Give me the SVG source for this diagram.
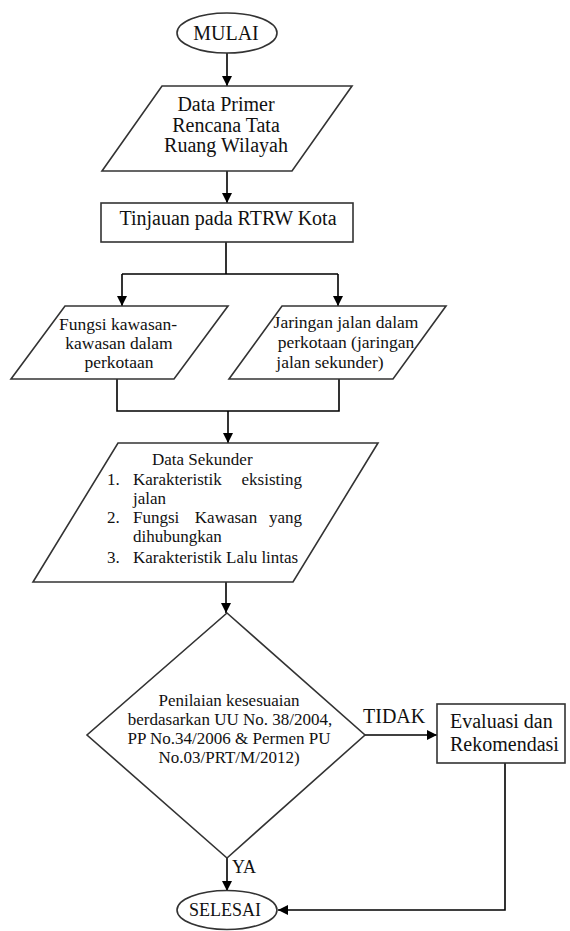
<svg xmlns="http://www.w3.org/2000/svg" width="570" height="931" viewBox="0 0 570 931">
<style>
.shape{fill:#fff;stroke:#333;stroke-width:1.6}
.conn{fill:none;stroke:#000;stroke-width:1.6}
text{font-family:"Liberation Serif","Times New Roman",serif;fill:#111}
.t20{font-size:20px}
.t18{font-size:18px}
.t17{font-size:17.5px}
.t17b{font-size:17px}
.c{text-anchor:middle}
.e{text-anchor:end}
</style>
<defs>
<marker id="arr" markerUnits="userSpaceOnUse" markerWidth="10" markerHeight="10" refX="10" refY="5" orient="auto">
<path d="M0,0 L10,5 L0,10 z" fill="#000"/>
</marker>
</defs>
<rect width="570" height="931" fill="#fff"/>
<g id="connectors">
<path class="conn" d="M227,53 V86" marker-end="url(#arr)"/>
<path class="conn" d="M227,171 V203" marker-end="url(#arr)"/>
<path class="conn" d="M226,242 V274 M122,274 H338"/>
<path class="conn" d="M122,274 V306" marker-end="url(#arr)"/>
<path class="conn" d="M338,274 V306" marker-end="url(#arr)"/>
<path class="conn" d="M117,379 V411 H339 V379"/>
<path class="conn" d="M228,411 V443" marker-end="url(#arr)"/>
<path class="conn" d="M226,582 V613" marker-end="url(#arr)"/>
<path class="conn" d="M365,735 H437" marker-end="url(#arr)"/>
<path class="conn" d="M227,858 V891" marker-end="url(#arr)"/>
<path class="conn" d="M505,763 V910 H278" marker-end="url(#arr)"/>
<text class="t20" x="363" y="723">TIDAK</text>
<text class="t18" x="232" y="873">YA</text>
</g>
<g id="mulai">
<ellipse class="shape" cx="227" cy="33" rx="50" ry="20"/>
<text class="t20 c" x="226" y="40">MULAI</text>
</g>
<g id="data-primer">
<polygon class="shape" points="162,86 352,86 292,171 102,171"/>
<text class="t20 c" x="226" y="111">Data Primer</text>
<text class="t20 c" x="226" y="132">Rencana Tata</text>
<text class="t20 c" x="226" y="152">Ruang Wilayah</text>
</g>
<g id="tinjauan">
<rect class="shape" x="101" y="203" width="252" height="39"/>
<text class="t20 c" x="228" y="225">Tinjauan pada RTRW Kota</text>
</g>
<g id="fungsi-kawasan">
<polygon class="shape" points="65,306 228,306 174,379 11,379"/>
<text class="t17 c" x="118" y="330">Fungsi kawasan-</text>
<text class="t17 c" x="119" y="349">kawasan dalam</text>
<text class="t17 c" x="119" y="368">perkotaan</text>
</g>
<g id="jaringan-jalan">
<polygon class="shape" points="282,306 446,306 393,379 229,379"/>
<text class="t17 c" x="346" y="328">Jaringan jalan dalam</text>
<text class="t17 c" x="346" y="348">perkotaan (jaringan</text>
<text class="t17 c" x="330" y="368">jalan sekunder)</text>
</g>
<g id="data-sekunder">
<polygon class="shape" points="118,443 378,443 293,582 33,582"/>
<text class="t17b" x="152" y="465">Data Sekunder</text>
<text class="t17b" x="107" y="485">1.</text>
<text class="t17b" x="133" y="485">Karakteristik</text>
<text class="t17b e" x="302" y="485">eksisting</text>
<text class="t17b" x="133" y="504">jalan</text>
<text class="t17b" x="107" y="523">2.</text>
<text class="t17b" x="133" y="523">Fungsi</text>
<text class="t17b c" x="226" y="523">Kawasan</text>
<text class="t17b e" x="302" y="523">yang</text>
<text class="t17b" x="133" y="542">dihubungkan</text>
<text class="t17b" x="107" y="563">3.</text>
<text class="t17b" x="133" y="563">Karakteristik Lalu lintas</text>
</g>
<g id="penilaian">
<polygon class="shape" points="227,613 365,735 227,858 87,735"/>
<text class="t17b c" x="229" y="706">Penilaian kesesuaian</text>
<text class="t17b c" x="230" y="725">berdasarkan UU No. 38/2004,</text>
<text class="t17b c" x="229" y="744">PP No.34/2006 &amp; Permen PU</text>
<text class="t17b c" x="229" y="763">No.03/PRT/M/2012)</text>
</g>
<g id="evaluasi">
<rect class="shape" x="437" y="704" width="128" height="59"/>
<text class="t20" x="450" y="728">Evaluasi dan</text>
<text class="t20" x="450" y="751">Rekomendasi</text>
</g>
<g id="selesai">
<ellipse class="shape" cx="227" cy="910" rx="50" ry="19.5"/>
<text class="t18 c" x="225" y="916">SELESAI</text>
</g>
</svg>
